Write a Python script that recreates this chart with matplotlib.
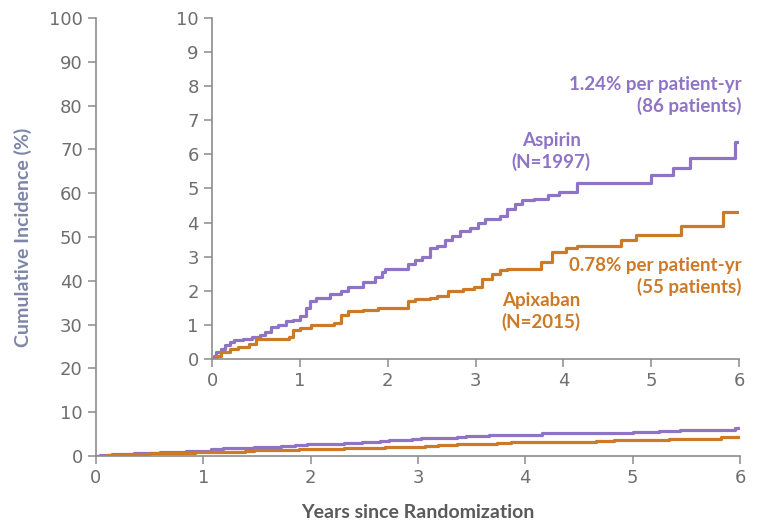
import matplotlib.pyplot as plt

# step times (years) and cumulative incidence (%)
aspirin_t = [0, 0.02, 0.04, 0.1, 0.15, 0.2, 0.25, 0.35, 0.45, 0.55, 0.6, 0.67, 0.75, 0.84, 0.92, 1.0,
             1.07, 1.11, 1.18, 1.34, 1.47, 1.55, 1.72, 1.85, 1.93, 1.97, 2.23, 2.31, 2.39, 2.48,
             2.56, 2.65, 2.73, 2.82, 2.94, 3.03, 3.11, 3.28, 3.36, 3.45, 3.53, 3.66, 3.82, 3.95,
             4.16, 5.0, 5.25, 5.44, 5.95, 6.0]
aspirin_y = [0, 0.1, 0.2, 0.3, 0.4, 0.5, 0.55, 0.6, 0.65, 0.7, 0.8, 0.95, 1.0, 1.1, 1.15, 1.25,
             1.5, 1.7, 1.8, 1.9, 2.0, 2.1, 2.25, 2.4, 2.55, 2.65, 2.8, 2.9, 3.0, 3.25,
             3.3, 3.5, 3.6, 3.75, 3.85, 4.0, 4.1, 4.2, 4.4, 4.55, 4.65, 4.7, 4.8, 4.9,
             5.15, 5.4, 5.6, 5.9, 6.35, 6.35]
apixaban_t = [0, 0.04, 0.1, 0.2, 0.3, 0.42, 0.5, 0.88, 0.92, 1.0, 1.13, 1.39, 1.47, 1.55, 1.72,
              1.89, 2.14, 2.23, 2.31, 2.48, 2.56, 2.69, 2.86, 2.98, 3.07, 3.19, 3.28, 3.36,
              3.74, 3.87, 4.03, 4.16, 4.66, 4.83, 5.34, 5.82, 6.0]
apixaban_y = [0, 0.1, 0.2, 0.3, 0.35, 0.45, 0.6, 0.65, 0.85, 0.9, 1.0, 1.05, 1.3, 1.4, 1.45,
              1.5, 1.5, 1.7, 1.75, 1.8, 1.85, 2.0, 2.05, 2.1, 2.35, 2.5, 2.6, 2.65,
              2.85, 3.15, 3.25, 3.3, 3.5, 3.65, 3.9, 4.3, 4.3]

years = [0, 1, 2, 3, 4, 5, 6]
main_yticks = list(range(0, 101, 10))
inset_yticks = list(range(0, 11))

purple = '#8f74c6'
orange = '#cc7a28'
gray = '#8c8c8c'
tickcol = '#6e6e6e'

plt.rcParams['font.family'] = ['Liberation Sans Narrow', 'DejaVu Sans']

fig = plt.figure(figsize=(7.58, 5.24), dpi=100)


def style(ax, yt):
    for s in ['top', 'right']:
        ax.spines[s].set_visible(False)
    for s in ['left', 'bottom']:
        ax.spines[s].set_color(gray)
        ax.spines[s].set_linewidth(1.2)
    ax.tick_params(colors=gray, labelcolor=tickcol, labelsize=13, length=6, width=1.1)
    ax.set_xticks(years)
    ax.set_yticks(yt)
    ax.set_xlim(0, 6)


ax = fig.add_axes([0.1266, 0.1298, 0.8496, 0.836])
ax.step(aspirin_t, aspirin_y, where='post', color=purple, lw=2.3)
ax.step(apixaban_t, apixaban_y, where='post', color=orange, lw=2.3)
style(ax, main_yticks)
ax.set_ylim(0, 100)
ax.set_ylabel('Cumulative Incidence (%)', color='#7d86a8', fontsize=14,
              fontweight='bold', family=['Lato', 'DejaVu Sans'], labelpad=12)
ax.set_xlabel('Years since Randomization', color='#5a5a5a', fontsize=14,
              fontweight='bold', family=['Lato', 'DejaVu Sans'], labelpad=12)

ins = fig.add_axes([0.2797, 0.3149, 0.6953, 0.6508])
ins.patch.set_alpha(0)
ins.step(aspirin_t, aspirin_y, where='post', color=purple, lw=2.3)
ins.step(apixaban_t, apixaban_y, where='post', color=orange, lw=2.3)
style(ins, inset_yticks)
ins.set_ylim(0, 10)

tf = dict(fontsize=13.5, fontweight='bold', family=['Lato', 'DejaVu Sans'], linespacing=1.25)
ins.text(6.03, 8.3, '1.24% per patient-yr\n(86 patients)', color=purple, ha='right', va='top', **tf)
ins.text(3.86, 6.65, 'Aspirin\n(N=1997)', color=purple, ha='center', va='top', **tf)
ins.text(6.03, 3.0, '0.78% per patient-yr\n(55 patients)', color=orange, ha='right', va='top', **tf)
ins.text(3.75, 1.95, 'Apixaban\n(N=2015)', color=orange, ha='center', va='top', **tf)

fig.savefig('out.png', dpi=100)
